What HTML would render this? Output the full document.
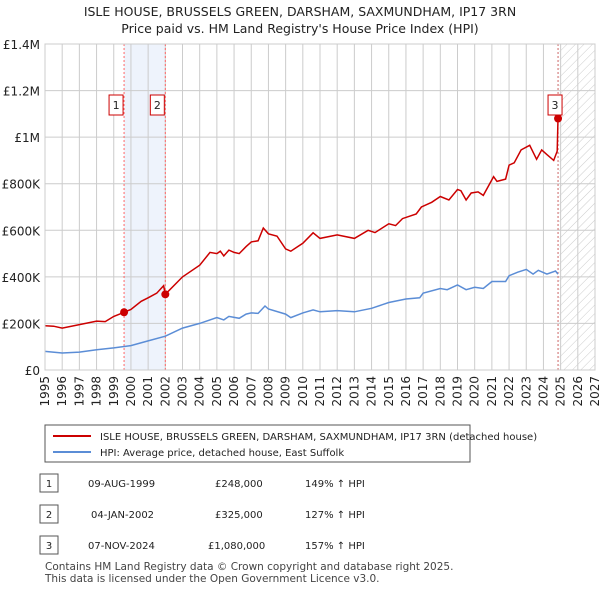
<!DOCTYPE html>
<html><head><meta charset="utf-8">
<style>
body{margin:0;background:#fff;font-family:"DejaVu Sans","Liberation Sans",sans-serif;}
svg text{font-family:"DejaVu Sans","Liberation Sans",sans-serif;}
</style></head>
<body>
<svg id="c" width="600" height="590" xmlns="http://www.w3.org/2000/svg">
<defs><pattern id="hatch" width="6" height="6" patternUnits="userSpaceOnUse" patternTransform="rotate(45)"><line x1="0" y1="0" x2="0" y2="6" stroke="#ccc" stroke-width="1"/></pattern></defs>
<text x="300" y="16" text-anchor="middle" font-size="12.5" fill="#222">ISLE HOUSE, BRUSSELS GREEN, DARSHAM, SAXMUNDHAM, IP17 3RN</text>
<text x="300" y="33" text-anchor="middle" font-size="12.5" fill="#222">Price paid vs. HM Land Registry's House Price Index (HPI)</text>
<g id="grid"></g><g id="marks"></g><g id="axes"></g>
<rect x="45" y="44" width="550" height="326" fill="none" stroke="#ccc"/>
<g>
<rect x="45" y="425" width="425" height="37" fill="#fff" stroke="#555"/>
<line x1="53" y1="436" x2="91" y2="436" stroke="#cc0000" stroke-width="2"/>
<text x="100" y="440" font-size="10" fill="#222">ISLE HOUSE, BRUSSELS GREEN, DARSHAM, SAXMUNDHAM, IP17 3RN (detached house)</text>
<line x1="53" y1="452" x2="91" y2="452" stroke="#5b8dd6" stroke-width="2"/>
<text x="100" y="456" font-size="10" fill="#222">HPI: Average price, detached house, East Suffolk</text>
</g>
<g font-size="10" fill="#222">
<rect x="40" y="474" width="18" height="18" fill="#fff" stroke="#555"/><text x="49" y="487" text-anchor="middle">1</text>
<text x="88" y="487">09-AUG-1999</text><text x="215" y="487">£248,000</text><text x="305" y="487">149% ↑ HPI</text>
<rect x="40" y="505" width="18" height="18" fill="#fff" stroke="#555"/><text x="49" y="518" text-anchor="middle">2</text>
<text x="91" y="518">04-JAN-2002</text><text x="215" y="518">£325,000</text><text x="305" y="518">127% ↑ HPI</text>
<rect x="40" y="536" width="18" height="18" fill="#fff" stroke="#555"/><text x="49" y="549" text-anchor="middle">3</text>
<text x="88" y="549">07-NOV-2024</text><text x="208" y="549">£1,080,000</text><text x="305" y="549">157% ↑ HPI</text>
</g>
<text x="45" y="570" font-size="10.5" fill="#444">Contains HM Land Registry data © Crown copyright and database right 2025.</text>
<text x="45" y="582" font-size="10.5" fill="#444">This data is licensed under the Open Government Licence v3.0.</text>
</svg>
<script>
const yTicks=[0,200000,400000,600000,800000,1000000,1200000,1400000];
const yTickLabels=["£0","£200K","£400K","£600K","£800K","£1M","£1.2M","£1.4M"];
const xYears=[1995,1996,1997,1998,1999,2000,2001,2002,2003,2004,2005,2006,2007,2008,2009,2010,2011,2012,2013,2014,2015,2016,2017,2018,2019,2020,2021,2022,2023,2024,2025,2026,2027];
const priceT=[1995,1995.5,1996,1997,1998,1998.5,1999,1999.6,2000,2000.6,2001,2001.5,2001.9,2002.0,2003,2004,2004.6,2005,2005.2,2005.4,2005.7,2006,2006.3,2006.7,2007,2007.4,2007.7,2008,2008.5,2009,2009.3,2009.7,2010,2010.6,2011,2012,2013,2013.8,2014.2,2015,2015.4,2015.8,2016.6,2016.9,2017.5,2018,2018.5,2019,2019.2,2019.5,2019.8,2020.2,2020.5,2021.1,2021.3,2021.8,2022,2022.3,2022.7,2023.2,2023.6,2023.9,2024.2,2024.6,2024.8,2024.85];
const priceV=[190,188,180,195,210,208,230,248,260,295,310,330,362,325,400,450,505,500,510,490,515,505,500,530,550,555,610,585,575,520,510,530,544,589,565,580,565,600,590,628,620,650,670,700,720,745,730,775,770,730,760,765,750,830,810,820,880,890,945,965,905,945,925,900,940,1080];
const hpiT=[1995,1996,1997,1998,1999,2000,2001,2002,2003,2004,2005,2005.4,2005.7,2006.3,2006.7,2007,2007.4,2007.8,2008,2009,2009.3,2010,2010.6,2011,2012,2013,2014,2015,2016,2016.8,2017,2018,2018.4,2019,2019.5,2020,2020.5,2021,2021.8,2022,2022.5,2023,2023.4,2023.7,2024.2,2024.7,2024.85];
const hpiV=[80,73,77,87,95,105,125,145,180,200,225,215,230,222,240,245,243,275,262,240,225,245,258,250,255,250,265,290,305,310,330,350,345,365,345,355,350,380,380,405,420,432,412,428,412,425,412];
const saleT=[1999.6,2002.0,2024.85];
const saleV=[248,325,1080];
const saleLabels=["1","2","3"];
const X=y=>45+(y-1995)*550/32, Y=v=>370-v*326/1400000;
const NS="http://www.w3.org/2000/svg";
function mk(p,t,a){const e=document.createElementNS(NS,t);for(const k in a)e.setAttribute(k,a[k]);p.appendChild(e);return e;}
const g=document.getElementById('grid'),m=document.getElementById('marks'),ax=document.getElementById('axes');
let sh=mk(g,'rect',{x:X(saleT[0]),y:44,width:X(saleT[1])-X(saleT[0]),height:326,fill:'#eef3fc'});


let hz=mk(g,'rect',{x:X(2024.93),y:44,width:595-X(2024.93),height:326,fill:'url(#hatch)'});


xYears.forEach(yr=>{let l=mk(g,'line',{x1:X(yr),x2:X(yr),y1:44,y2:370,stroke:'#ccc'});


let t=mk(ax,'text',{x:0,y:0,transform:`translate(${X(yr)+4},376) rotate(-90)`,'text-anchor':'end','font-size':12,fill:'#222'});t.textContent=yr;

});
yTicks.forEach((v,i)=>{let l=mk(g,'line',{x1:45,x2:595,y1:Y(v),y2:Y(v),stroke:'#ccc'});


let t=mk(ax,'text',{x:40,y:Y(v)+5,'text-anchor':'end','font-size':12,fill:'#222'});t.textContent=yTickLabels[i];

});
saleT.forEach((s,i)=>{let l=mk(m,'line',{x1:X(s),x2:X(s),y1:44,y2:370,stroke:i==2?'#c66':'#f66','stroke-dasharray':'2,2'});

});
function path(T,V,col,name){let d=T.map((t,i)=>(i?'L':'M')+X(t).toFixed(1)+','+Y(V[i]*1000).toFixed(1)).join('');
let p=mk(m,'path',{d:d,fill:'none',stroke:col,'stroke-width':1.5});

}
path(hpiT,hpiV,'#5b8dd6','hpi-line');
path(priceT,priceV,'#cc0000','price-line');
saleT.forEach((s,i)=>{let c=mk(m,'circle',{cx:X(s),cy:Y(saleV[i]*1000),r:4,fill:'#cc0000'});


let bx=X(s)-(i==2?3:8);
let r=mk(m,'rect',{x:bx-7,y:95,width:14,height:20,fill:'#fff',stroke:'#cc0000'});


let t=mk(m,'text',{x:bx,y:109,'text-anchor':'middle','font-size':11,fill:'#222'});t.textContent=saleLabels[i];

});
</script>
</body></html>
